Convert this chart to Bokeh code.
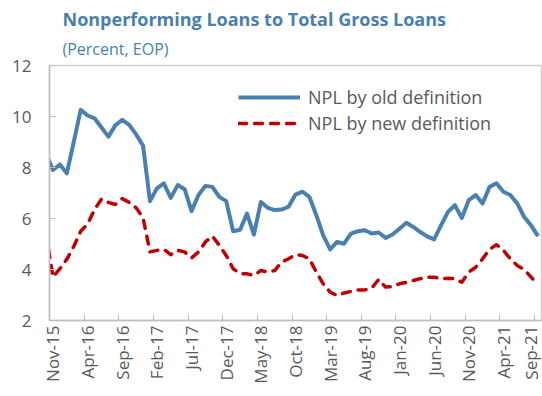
from bokeh.plotting import figure
from bokeh.models import FixedTicker, Title, Legend, LegendItem, Range1d
from bokeh.embed import file_html
from bokeh.resources import INLINE

# Months: Oct-15 (partly visible stub at the axis) .. Sep-21
mon_names = ["Jan", "Feb", "Mar", "Apr", "May", "Jun", "Jul", "Aug", "Sep", "Oct", "Nov", "Dec"]
months = []
for yr in range(2015, 2022):
    for m in range(12):
        if (yr == 2015 and m < 9) or (yr == 2021 and m > 8):
            continue
        months.append(f"{mon_names[m]}-{str(yr)[2:]}")
x_idx = list(range(-1, len(months) - 1))  # Nov-15 -> 0

old_definition = [8.55,
    7.9, 8.12, 7.77, 9.0, 10.26, 10.04, 9.93, 9.57, 9.21, 9.65, 9.87, 9.67, 9.3, 8.85,
    6.68, 7.18, 7.38, 6.81, 7.31, 7.15, 6.29, 6.92, 7.28, 7.24, 6.85, 6.68, 5.5, 5.56,
    6.19, 5.37, 6.65, 6.42, 6.33, 6.35, 6.46, 6.94, 7.05, 6.85, 6.13, 5.34, 4.79,
    5.08, 5.01, 5.41, 5.5, 5.54, 5.41, 5.45, 5.24, 5.37, 5.6, 5.83, 5.67, 5.47, 5.3,
    5.18, 5.73, 6.26, 6.52, 6.02, 6.72, 6.92, 6.59, 7.24, 7.38, 7.05, 6.92, 6.59, 6.06, 5.73, 5.31]

new_definition = [5.4,
    3.7, 4.03, 4.4, 4.9, 5.5, 5.78, 6.35, 6.76, 6.63, 6.55, 6.78, 6.63, 6.42, 6.03,
    4.69, 4.75, 4.79, 4.58, 4.75, 4.69, 4.45, 4.69, 5.08, 5.31, 4.95, 4.55, 4.03, 3.84,
    3.83, 3.77, 3.96, 3.9, 3.96, 4.29, 4.42, 4.58, 4.55, 4.42, 3.9, 3.44, 3.11,
    2.98, 3.08, 3.14, 3.2, 3.2, 3.27, 3.61, 3.31, 3.33, 3.44, 3.5, 3.57, 3.64, 3.7,
    3.7, 3.64, 3.66, 3.64, 3.5, 3.9, 4.09, 4.42, 4.79, 4.97, 4.75, 4.42, 4.16, 4.0, 3.7, 3.4]

tick_labels = ["Nov-15", "Apr-16", "Sep-16", "Feb-17", "Jul-17", "Dec-17", "May-18", "Oct-18",
               "Mar-19", "Aug-19", "Jan-20", "Jun-20", "Nov-20", "Apr-21", "Sep-21"]
y_ticks = [2, 4, 6, 8, 10, 12]

BLUE = "#4A7FAE"
RED = "#C00000"
TXT = "#595959"
FONT = "Open Sans"

tick_pos = [x_idx[months.index(t)] for t in tick_labels]
boundaries = [t - 0.5 for t in tick_pos[1:]]

p = figure(width=542, height=396, output_backend="svg", toolbar_location=None,
           x_range=Range1d(-0.5, len(months) - 1.5), y_range=Range1d(2, 12),
           min_border_left=49, min_border_right=1, min_border_bottom=76, min_border_top=65)
p.background_fill_color = "white"
p.border_fill_color = "white"
p.outline_line_color = "#D0D0D0"
p.outline_line_width = 1.5
p.grid.visible = False

sub = Title(text="(Percent, EOP)", align="left", offset=13, text_font=FONT,
            text_font_size="16px", text_font_style="normal", text_color=BLUE, standoff=11)
main = Title(text="Nonperforming Loans to Total Gross Loans", align="left", offset=13,
             text_font=FONT, text_font_size="18px", text_font_style="bold", text_color=BLUE,
             standoff=0)
p.add_layout(sub, "above")
p.add_layout(main, "above")

r_old = p.line(x_idx, old_definition, line_color=BLUE, line_width=4, line_join="round")
r_new = p.line(x_idx, new_definition, line_color=RED, line_width=3.5, line_dash="8 8",
               line_cap="round", line_join="round")

xa = p.xaxis[0]
xa.ticker = FixedTicker(ticks=tick_pos, minor_ticks=boundaries)
xa.major_label_overrides = {t: lab for t, lab in zip(tick_pos, tick_labels)}
xa.major_label_orientation = 1.5708
xa.major_tick_line_color = None
xa.major_tick_out = 0
xa.major_tick_in = 0
xa.minor_tick_in = 6
xa.minor_tick_out = 0
xa.minor_tick_line_color = "#BFBFBF"
xa.axis_line_color = "#BFBFBF"
xa.axis_line_width = 1.5
xa.major_label_text_font = FONT
xa.major_label_text_font_size = "17px"
xa.major_label_text_color = TXT
xa.major_label_standoff = 5

ya = p.yaxis[0]
ya.ticker = FixedTicker(ticks=y_ticks)
ya.major_tick_in = 6
ya.major_tick_out = 0
ya.minor_tick_line_color = None
ya.major_tick_line_color = "#BFBFBF"
ya.axis_line_color = "#BFBFBF"
ya.axis_line_width = 1.5
ya.major_label_text_font = FONT
ya.major_label_text_font_size = "17px"
ya.major_label_text_color = TXT
ya.major_label_standoff = 18

legend = Legend(items=[LegendItem(label="NPL by old definition", renderers=[r_old]),
                       LegendItem(label="NPL by new definition", renderers=[r_new])],
                location=(189, 185), border_line_color=None, background_fill_alpha=0,
                padding=0, margin=0, spacing=2, glyph_width=62, glyph_height=24,
                label_height=24, label_standoff=8, label_text_font=FONT,
                label_text_font_size="18px", label_text_color=TXT)
p.add_layout(legend, "center")

open("out.html", "w").write(file_html(p, INLINE))
